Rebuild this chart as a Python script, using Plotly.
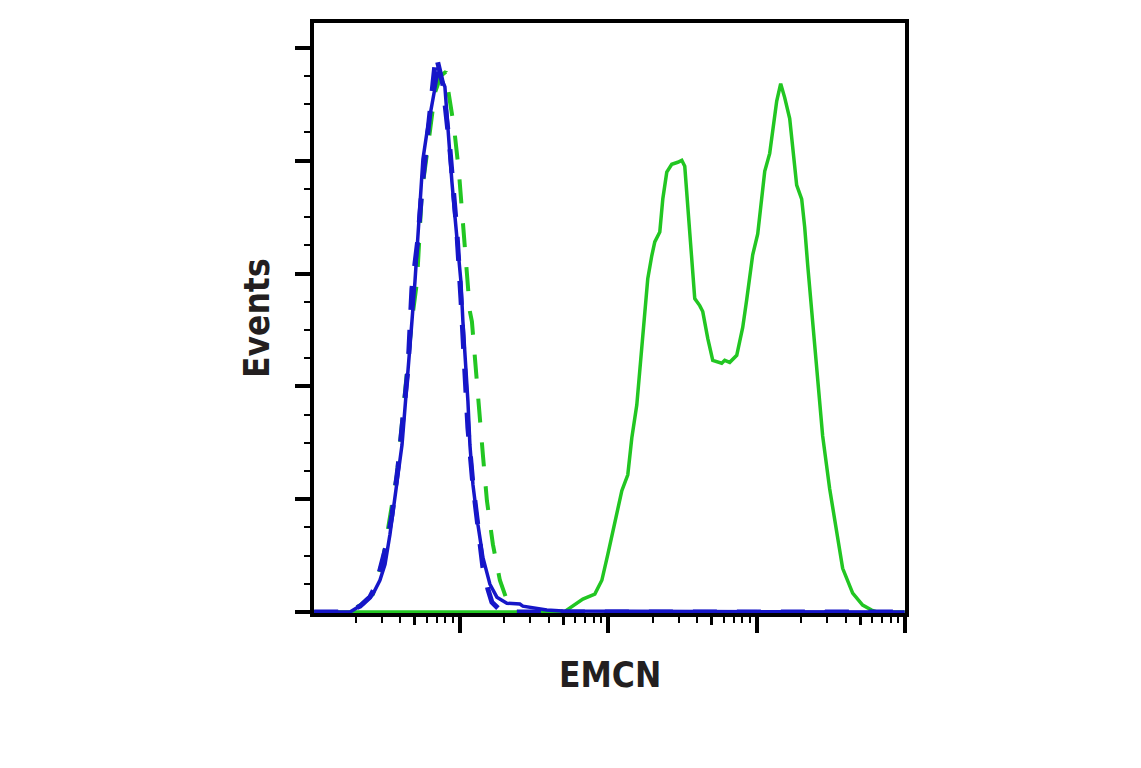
import plotly.graph_objects as go

# ---------------- data (fluorescence intensity, events) ----------------
blue_solid_x = [10.5, 16.9, 18.3, 22.4, 26.1, 29.1, 31.5, 34.0, 36.7, 38.5, 41.0, 42.9, 45.0, 47.8,
                50.1, 51.7, 54.1, 56.7, 60.3, 65.2, 70.5, 71.5, 79.7, 82.3, 84.9, 88.9, 93.1, 97.6,
                102.2, 105.4, 108.7, 113.9, 117.5, 123.1, 133.0, 143.7, 160.2, 178.5, 208.4, 255,
                267, 332, 387, 496, 99500]
blue_solid_y = [0, 0, 0, 7.1, 15.9, 28.2, 42.3, 68.8, 98.8, 121.7, 148.2, 178.2, 216.2, 257.5,
                292.8, 321.9, 366, 401.3, 425, 448, 474.5, 478.8, 465.6, 439.1, 410, 380.9, 351, 321.9,
                292.8, 257.5, 231, 187, 148.1, 112.9, 77.6, 48.5, 24.7, 13.2, 7.9, 7.1,
                5.3, 3.5, 1.8, 0.9, 0]

blue_dash_x = [10.5, 17.5, 21.4, 24.9, 27.4, 30.0, 32.5, 35.1, 38.5, 41.6, 45.0, 47.8, 52.5, 55.8,
               60.3, 65.2, 69.4, 73.8, 77.3, 86.2, 96.0, 102.2, 108.7, 113.9, 123.1, 133.0, 143.7,
               155.3, 165.2, 187.0, 211.7, 99500]
blue_dash_y = [0, 0, 5.3, 13.2, 23.8, 42.3, 61.7, 86.4, 127.9, 172, 216, 286.6, 330.7, 374.8,
               418.9, 456.8, 493.8, 478.8, 467.4, 410, 336.8, 277.8, 207.2, 163.1, 112.9, 77.6, 39.7,
               20.3, 8.8, 1.8, 0, 0]

green_dash_x = [10.5, 18.3, 22.0, 26.1, 30.5, 34.0, 37.9, 41.0, 44.3, 47.8, 51.7, 55.8, 61.3, 68.3,
                75.0, 81.0, 82.3, 91.7, 99.1, 105.4, 110.4, 117.5, 121.2, 127.0, 135.1, 143.7, 152.9,
                167.8, 187.0, 208.4, 225.2, 247.2, 99500]
green_dash_y = [0, 0, 7.1, 15.9, 46.7, 82, 121.7, 167.5, 211.6, 258.4, 292.8, 373, 412.7, 460.3,
                475.3, 478.8, 469.1, 430.3, 389.8, 348.3, 306.9, 266.3, 257.5, 222.2, 181, 139.3, 98.8,
                60, 28.2, 10.6, 1.8, 0, 0]

green_solid_x = [10.5, 512, 528, 598, 677, 815, 909, 997, 1111, 1239, 1359, 1446, 1562, 1637, 1768,
                 1852, 1971, 2065, 2232, 2338, 2487, 2687, 2949, 3138, 3287, 3444, 3664, 3838, 4147,
                 4345, 4695, 5074, 5832, 6110, 6602, 7359, 7709, 8075, 8593, 9002, 9428, 10190,
                 10840, 11360, 12270, 12850, 13680, 14550, 15480, 16730, 17520, 18640, 20150, 21100,
                 22110, 23890, 25810, 27890, 31090, 34650, 38030, 44410, 51840, 59610, 65400, 99500]
green_solid_y = [0, 0, 1.8, 6.2, 11.5, 15.9, 28.2, 51.1, 81.1, 107.6, 121.7, 154.3, 183.4, 213.4,
                 260.1, 295.4, 315.7, 328, 336.8, 366, 389.8, 396.8, 398.6, 400.3, 395.0, 359.8, 315.7,
                 277.8, 271.6, 266.3, 242.5, 223.1, 220.5, 223.1, 221.3, 227.5, 239.9, 252.2, 276.9,
                 295.4, 316.6, 335.1, 363.3, 390.6, 406.5, 427.7, 452.8, 468.2, 455.9, 437.4, 412.7,
                 378.3, 366, 341.3, 307.7, 254.8, 209, 156.1, 109.3, 69.7, 38.8, 16.8, 6.2, 1.8, 0, 0]

x_major = [100, 1000, 10000, 100000]
x_medium = [50, 500, 5000, 50000]
x_minor = [m * 10 ** k for k in range(1, 5) for m in (2, 3, 4, 6, 7, 8, 9)]

x_title = "EMCN"
y_title = "Events"

BLUE = "#1616c8"
GREEN = "#22c622"
FONT = "Liberation Sans Narrow, DejaVu Sans Condensed, Arial Narrow, sans-serif"

fig = go.Figure()
fig.add_trace(go.Scatter(x=green_solid_x, y=green_solid_y, mode="lines",
                         line=dict(color=GREEN, width=3.5), hoverinfo="skip"))
fig.add_trace(go.Scatter(x=green_dash_x, y=green_dash_y, mode="lines",
                         line=dict(color=GREEN, width=4, dash="24px,20px"), hoverinfo="skip"))
fig.add_trace(go.Scatter(x=blue_dash_x, y=blue_dash_y, mode="lines",
                         line=dict(color=BLUE, width=5, dash="24px,20px"), hoverinfo="skip"))
fig.add_trace(go.Scatter(x=blue_solid_x, y=blue_solid_y, mode="lines",
                         line=dict(color=BLUE, width=3.5), hoverinfo="skip"))
# carrier for the medium-length tick axis
fig.add_trace(go.Scatter(x=[], y=[], xaxis="x2", yaxis="y", mode="lines", hoverinfo="skip"))

xrange = [1.02, 5.0]
fig.update_layout(
    width=1133, height=760,
    margin=dict(l=306, r=236, t=15, b=155),
    paper_bgcolor="white", plot_bgcolor="white",
    showlegend=False,
    xaxis=dict(type="log", range=xrange, showgrid=False, zeroline=False,
               showline=True, linecolor="black", linewidth=4, mirror=True,
               tickmode="array", tickvals=x_major, showticklabels=False,
               ticks="outside", ticklen=16, tickwidth=4, tickcolor="black",
               minor=dict(tickmode="array", tickvals=x_minor, ticks="outside",
                          ticklen=6, tickwidth=2, tickcolor="black", showgrid=False)),
    xaxis2=dict(type="log", range=xrange, overlaying="x", anchor="y", side="bottom",
                showgrid=False, zeroline=False, showline=False, linewidth=4,
                tickmode="array", tickvals=x_medium, showticklabels=False,
                ticks="outside", ticklen=11, tickwidth=3, tickcolor="black"),
    yaxis=dict(range=[-0.8, 522], showgrid=False, zeroline=False,
               showline=True, linecolor="black", linewidth=4, mirror=True,
               tickmode="linear", tick0=0, dtick=100, showticklabels=False,
               ticks="outside", ticklen=15, tickwidth=4, tickcolor="black",
               minor=dict(dtick=25, tick0=0, ticks="outside", ticklen=6, tickwidth=2,
                          tickcolor="black", showgrid=False)),
    annotations=[
        dict(text=x_title, xref="paper", yref="paper", x=0.5, y=0, xanchor="center",
             yanchor="middle", yshift=-62, showarrow=False,
             font=dict(family=FONT, size=35, color="#231f20", weight=700)),
        dict(text=y_title, xref="paper", yref="paper", x=0, y=0.5, xanchor="center",
             yanchor="middle", xshift=-57, textangle=-90, showarrow=False,
             font=dict(family=FONT, size=35, color="#231f20", weight=700)),
    ],
)

fig.write_html("out.html")
